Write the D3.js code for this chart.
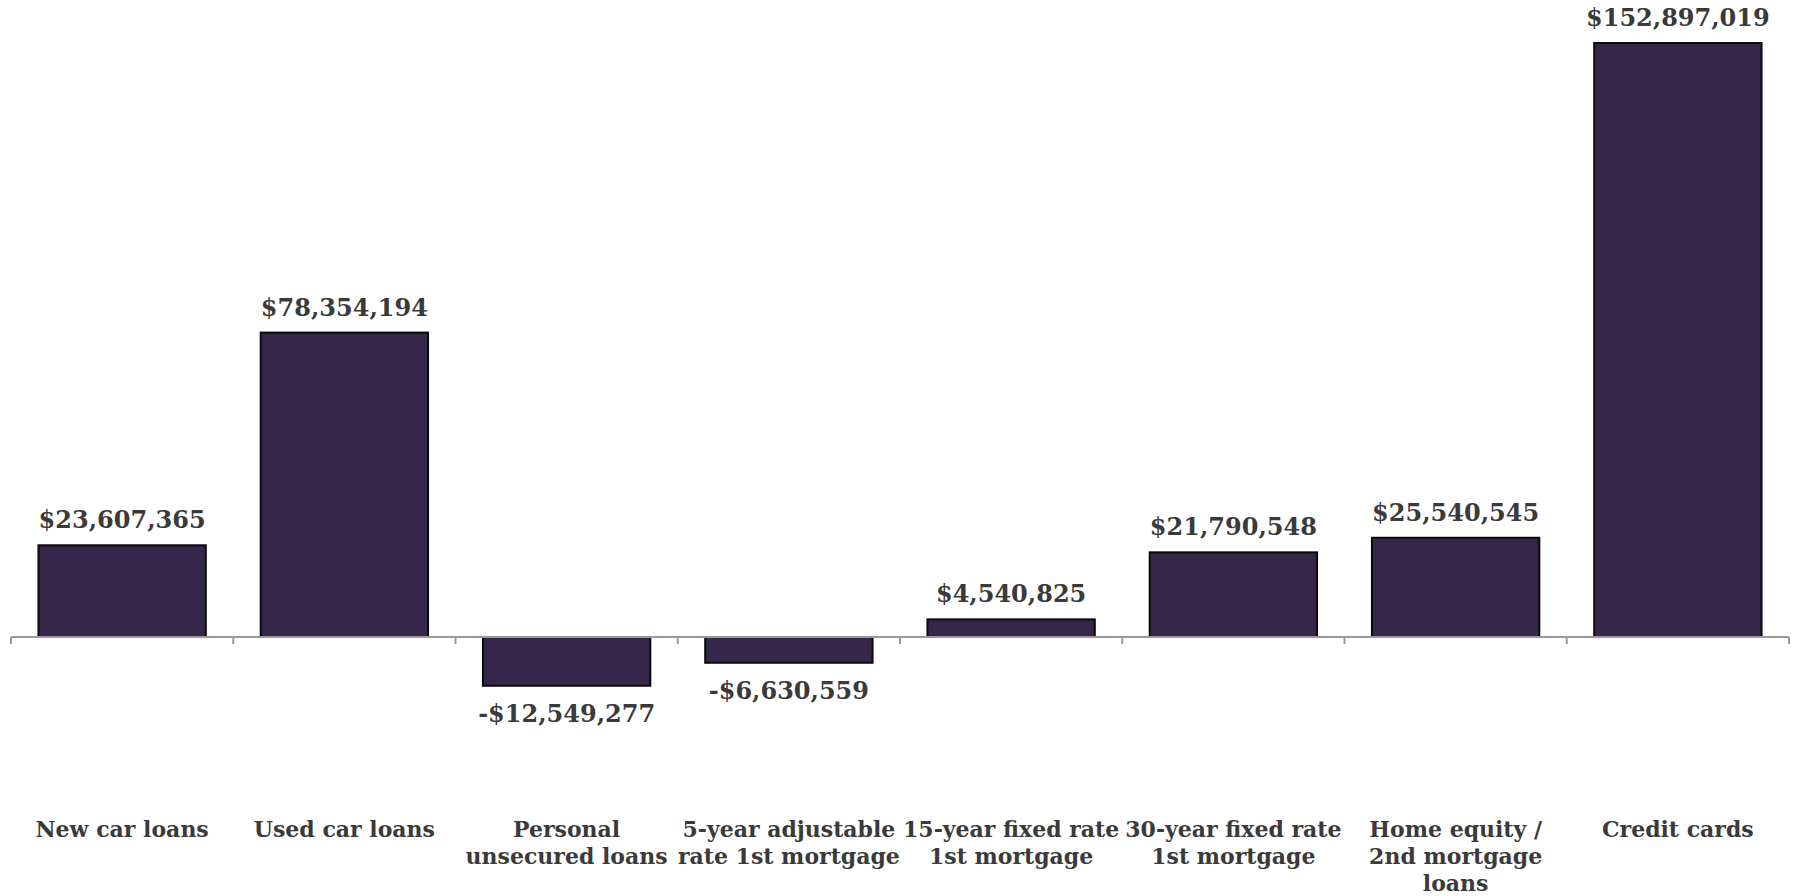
<!DOCTYPE html>
<html><head><meta charset="utf-8">
<script src="https://cdn.jsdelivr.net/npm/d3@7"></script>
<style>
html,body{margin:0;padding:0;background:#fff;}
svg text{font-family:"DejaVu Serif",Georgia,serif;font-weight:bold;fill:#3a3a3a;}
</style></head><body>
<svg id="chart" width="1793" height="896"></svg>
<script>
const categories = ["New car loans","Used car loans","Personal\nunsecured loans","5-year adjustable\nrate 1st mortgage","15-year fixed rate\n1st mortgage","30-year fixed rate\n1st mortgage","Home equity /\n2nd mortgage\nloans","Credit cards"];
const values = [23607365, 78354194, -12549277, -6630559, 4540825, 21790548, 25540545, 152897019];

const svg = d3.select("#chart");
const left = 11, right = 1789, zeroY = 637, topY = 43;

const x = d3.scaleBand().domain(categories).range([left, right]).paddingInner(0.247).paddingOuter(0.1235);
const y = d3.scaleLinear().domain([0, d3.max(values)]).range([zeroY, topY]);
const fmt = v => (v < 0 ? "-$" : "$") + d3.format(",")(Math.abs(v));

const data = categories.map((c, i) => ({c, v: values[i]}));

svg.append("g").selectAll("rect").data(data).join("rect")
  .attr("x", d => x(d.c))
  .attr("width", x.bandwidth())
  .attr("y", d => d.v >= 0 ? y(d.v) : y(0))
  .attr("height", d => Math.abs(y(d.v) - y(0)))
  .attr("fill", "#36264a")
  .attr("stroke", "#0a0a0a")
  .attr("stroke-width", 2);

// axis line with ticks at band boundaries
const ax = svg.append("g").attr("stroke", "#9a9a9a").attr("stroke-width", 2);
ax.append("line").attr("x1", left).attr("x2", right).attr("y1", y(0)).attr("y2", y(0));
const bounds = d3.range(categories.length + 1).map(i => left + i * x.step());
ax.selectAll("line.tick").data(bounds).join("line").attr("class", "tick")
  .attr("x1", d => d).attr("x2", d => d).attr("y1", y(0)).attr("y2", y(0) + 7);

// value labels
svg.append("g").selectAll("text").data(data).join("text")
  .attr("x", d => x(d.c) + x.bandwidth() / 2)
  .attr("y", d => d.v >= 0 ? y(d.v) - 17 : y(d.v) + 36)
  .attr("text-anchor", "middle")
  .attr("font-size", 24)
  .text(d => fmt(d.v));

// category labels
const cl = svg.append("g").selectAll("text").data(data).join("text")
  .attr("text-anchor", "middle")
  .attr("font-size", 22)
  .attr("y", 837);
cl.each(function(d) {
  const t = d3.select(this);
  d.c.split("\n").forEach((line, i) => {
    t.append("tspan").attr("x", x(d.c) + x.bandwidth() / 2).attr("dy", i === 0 ? 0 : 27).text(line);
  });
});
</script></body></html>
